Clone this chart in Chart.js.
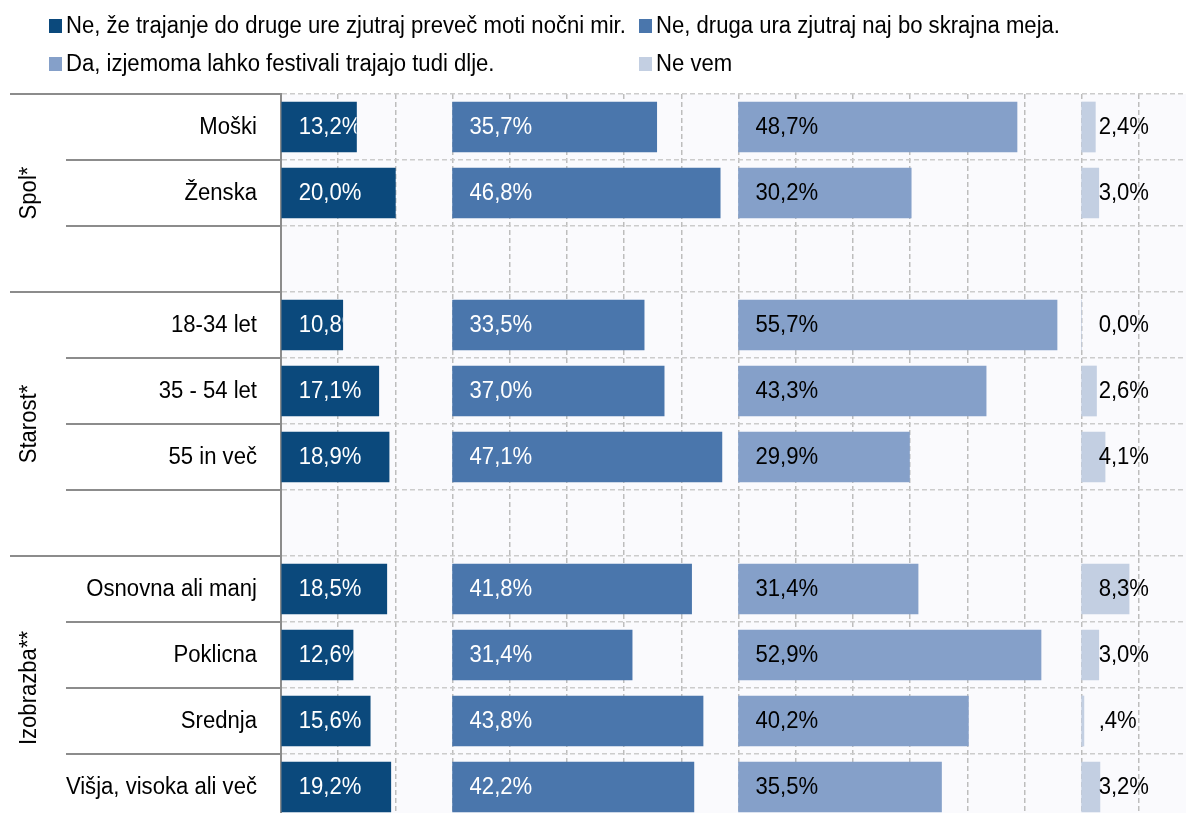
<!DOCTYPE html>
<html>
<head>
<meta charset="utf-8">
<script src="https://cdn.jsdelivr.net/npm/chart.js@4/dist/chart.umd.min.js"></script>
<style>
  html, body { margin: 0; padding: 0; background: #fff; overflow: hidden; }
  #wrap { width: 1186px; height: 813px; overflow: hidden; position: relative; }
</style>
</head>
<body>
<div id="wrap"><canvas id="chart" width="1200" height="830"></canvas></div>
<script>
// rows (blank strings are the spacer rows between groups)
const categories = ['Moški', 'Ženska', '', '18-34 let', '35 - 54 let', '55 in več', '',
  'Osnovna ali manj', 'Poklicna', 'Srednja', 'Višja, visoka ali več'];

const groups = [
  { name: 'Spol*', from: 0, to: 2 },
  { name: 'Starost*', from: 3, to: 6 },
  { name: 'Izobrazba**', from: 7, to: 10 }
];

const seriesNames = [
  'Ne, že trajanje do druge ure zjutraj preveč moti nočni mir.',
  'Ne, druga ura zjutraj naj bo skrajna meja.',
  'Da, izjemoma lahko festivali trajajo tudi dlje.',
  'Ne vem'
];

const tooDisturbing = [13.2, 20.0, null, 10.8, 17.1, 18.9, null, 18.5, 12.6, 15.6, 19.2];
const twoAmLimit    = [35.7, 46.8, null, 33.5, 37.0, 47.1, null, 41.8, 31.4, 43.8, 42.2];
const longerOk      = [48.7, 30.2, null, 55.7, 43.3, 29.9, null, 31.4, 52.9, 40.2, 35.5];
const dontKnow      = [2.4, 3.0, null, 0.0, 2.6, 4.1, null, 8.3, 3.0, 0.4, 3.2];

// each series gets its own panel along one shared axis
const panelStart = [0, 30, 80, 140];
const colors = ['#0b497c', '#4a76ac', '#85a0c9', '#c3cfe2'];
const labelColors = ['#ffffff', '#ffffff', '#000000', '#000000'];

const FONT = "'Liberation Sans', Arial, sans-serif";
const FONT_SIZE = 23.5;
const SQUEEZE = 0.94;   // the original text is slightly condensed
Chart.defaults.font.family = FONT;
Chart.defaults.color = '#000';

function fmt(v) {
  let s = v.toFixed(1).replace('.', ',');
  if (v > 0 && v < 1) s = s.slice(1);
  return s + '%';
}

// narrow text helper
function narrowText(ctx, text, x, y, align) {
  ctx.save();
  ctx.translate(x, y);
  ctx.scale(SQUEEZE, 1);
  ctx.textAlign = align;
  ctx.fillText(text, 0, 0);
  ctx.restore();
}

const allSeries = [tooDisturbing, twoAmLimit, longerOk, dontKnow];
const datasets = allSeries.map((vals, k) => ({
  label: seriesNames[k],
  data: vals.map(v => v == null ? null : [panelStart[k], panelStart[k] + v]),
  backgroundColor: colors[k],
  borderWidth: 0,
  barThickness: 50,
  grouped: false
}));

const plotBg = {
  id: 'plotBg',
  beforeDraw(chart) {
    const a = chart.chartArea, ctx = chart.ctx;
    ctx.save();
    ctx.fillStyle = '#fafafd';
    ctx.fillRect(a.left, a.top, a.right - a.left, a.bottom - a.top);
    ctx.restore();
  }
};

const leftSide = {
  id: 'leftSide',
  afterDraw(chart) {
    const ctx = chart.ctx, y = chart.scales.y, a = chart.chartArea;
    const half = (y.getPixelForValue(1) - y.getPixelForValue(0)) / 2;
    ctx.save();
    ctx.strokeStyle = '#8c8c8c';
    ctx.lineWidth = 2;
    for (let i = 0; i <= categories.length; i++) {
      const py = Math.round(y.getPixelForValue(i) - half);
      const isGroup = groups.some(g => g.from === i);
      ctx.beginPath();
      ctx.moveTo(isGroup ? 10 : 66, py);
      ctx.lineTo(a.left, py);
      ctx.stroke();
    }
    ctx.fillStyle = '#000';
    ctx.font = FONT_SIZE + 'px ' + FONT;
    ctx.textBaseline = 'middle';
    categories.forEach((c, i) => {
      if (c) narrowText(ctx, c, a.left - 24, y.getPixelForValue(i) + 1, 'right');
    });
    groups.forEach(g => {
      const cy = (y.getPixelForValue(g.from) + y.getPixelForValue(g.to)) / 2;
      ctx.save();
      ctx.translate(30, cy);
      ctx.rotate(-Math.PI / 2);
      narrowText(ctx, g.name, 0, 0, 'center');
      ctx.restore();
    });
    ctx.restore();
  }
};

const barLabels = {
  id: 'barLabels',
  afterDatasetsDraw(chart) {
    const ctx = chart.ctx;
    ctx.save();
    ctx.font = FONT_SIZE + 'px ' + FONT;
    ctx.textBaseline = 'middle';
    chart.data.datasets.forEach((ds, k) => {
      const meta = chart.getDatasetMeta(k);
      meta.data.forEach((bar, i) => {
        const v = allSeries[k][i];
        if (v == null) return;
        const left = Math.min(bar.base, bar.x);
        ctx.save();
        if (labelColors[k] === '#ffffff') {
          ctx.beginPath();
          ctx.rect(left, bar.y - 25, Math.abs(bar.x - bar.base), 50);
          ctx.clip();
        }
        ctx.fillStyle = labelColors[k];
        narrowText(ctx, fmt(v), left + 17, bar.y + 1, 'left');
        ctx.restore();
      });
    });
    ctx.restore();
  }
};

const legendBoxes = {
  id: 'legendBoxes',
  afterDraw(chart) {
    const ctx = chart.ctx;
    const spots = [[49, 19], [639, 19], [49, 57], [639, 57]];
    ctx.save();
    ctx.font = FONT_SIZE + 'px ' + FONT;
    ctx.textBaseline = 'middle';
    chart.data.datasets.forEach((ds, k) => {
      const [lx, ly] = spots[k];
      ctx.fillStyle = ds.backgroundColor;
      ctx.fillRect(lx, ly, 13, 14);
      ctx.fillStyle = '#000';
      narrowText(ctx, ds.label, lx + 17, ly + 8, 'left');
    });
    ctx.restore();
  }
};

new Chart(document.getElementById('chart'), {
  type: 'bar',
  data: { labels: categories, datasets: datasets },
  options: {
    indexAxis: 'y',
    responsive: false,
    animation: false,
    devicePixelRatio: 1,
    layout: { padding: { top: 94, bottom: 10, left: 0, right: 4 } },
    plugins: { legend: { display: false }, tooltip: { enabled: false } },
    scales: {
      x: {
        min: 0,
        max: 160,
        position: 'bottom',
        ticks: { display: false, stepSize: 10 },
        border: { display: false, dash: [5, 3] },
        grid: {
          drawTicks: false,
          color: ctx => ctx.tick && ctx.tick.value === 0 ? 'rgba(0,0,0,0)' : '#bdbdbd',
          lineWidth: 1.5
        },
        afterFit(scale) { scale.height = 0; }
      },
      y: {
        type: 'category',
        ticks: { display: false },
        border: { display: true, color: '#8c8c8c', width: 2, dash: [5, 3] },
        grid: { drawTicks: false, color: '#cccccc', lineWidth: 1.5, offset: true },
        afterFit(scale) { scale.width = 281; }
      }
    }
  },
  plugins: [plotBg, leftSide, barLabels, legendBoxes]
});
</script>
</body>
</html>
